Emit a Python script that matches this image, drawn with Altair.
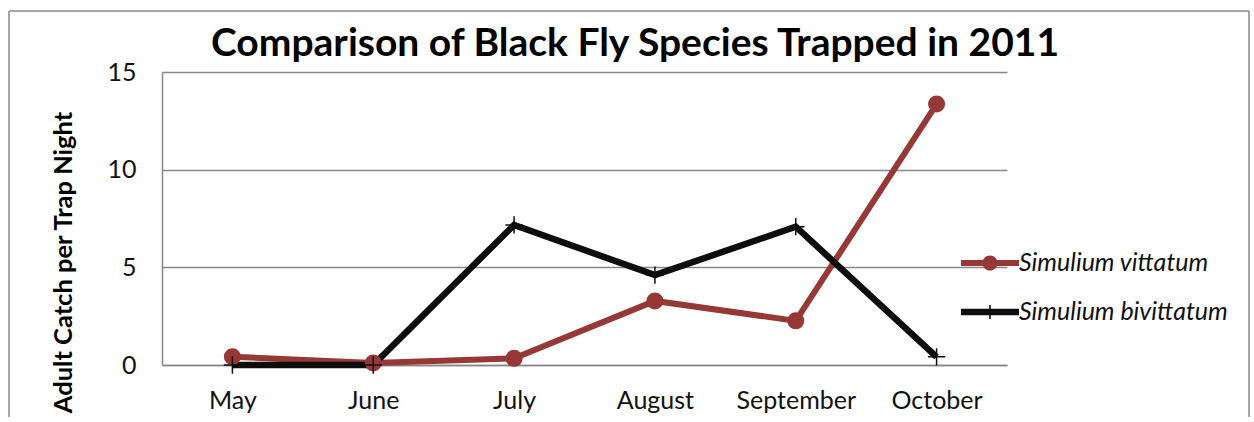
import altair as alt
import pandas as pd

months = ["May", "June", "July", "August", "September", "October"]
series_names = ["Simulium vittatum", "Simulium bivittatum"]
vittatum = [0.42, 0.1, 0.34, 3.28, 2.26, 13.36]
bivittatum = [0.0, 0.0, 7.17, 4.6, 7.08, 0.42]
colors = ["#963836", "#0d0d0d"]
y_ticks = [0, 5, 10, 15]
title_text = "Comparison of Black Fly Species Trapped in 2011"
y_title = "Adult Catch per Trap Night"

rows = []
for m, v in zip(months, vittatum):
    rows.append({"month": m, "value": v, "series": series_names[0]})
for m, v in zip(months, bivittatum):
    rows.append({"month": m, "value": v, "series": series_names[1]})
df = pd.DataFrame(rows)

FONT = "Lato"
x_enc = alt.X("month:N", sort=months, title=None,
              axis=alt.Axis(labelAngle=0, labelFontSize=25, labelPadding=23,
                            ticks=False, domain=True, domainColor="#888888",
                            domainWidth=1.5, grid=False, labelColor="#111111",
                            labelFont=FONT))
y_enc = alt.Y("value:Q", scale=alt.Scale(domain=[0, 15], nice=False),
              axis=alt.Axis(values=y_ticks, title=y_title, titleFontSize=25.5,
                            titleFontWeight="bold", titleFont=FONT,
                            titleX=-99, titleY=190, titleAngle=-90,
                            titleAlign="center", titleBaseline="middle",
                            titleColor="#000000",
                            labelFontSize=25, labelPadding=26, ticks=False,
                            domain=True, domainColor="#888888", domainWidth=1.5,
                            grid=True, gridColor="#888888", gridWidth=1.5,
                            labelColor="#111111", labelFont=FONT))

base = alt.Chart(df)

line_v = base.transform_filter(alt.datum.series == series_names[0]).mark_line(
    color=colors[0], strokeWidth=6).encode(x=x_enc, y=y_enc)
pts_v = base.transform_filter(alt.datum.series == series_names[0]).mark_circle(
    color=colors[0], size=290, opacity=1).encode(x=x_enc, y=y_enc)
line_b = base.transform_filter(alt.datum.series == series_names[1]).mark_line(
    color=colors[1], strokeWidth=6.5).encode(x=x_enc, y=y_enc)
pts_b = base.transform_filter(alt.datum.series == series_names[1]).mark_point(
    shape="M-1,0L1,0M0,-1L0,1", filled=False, color=colors[1], size=300,
    strokeWidth=1.5, opacity=1).encode(x=x_enc, y=y_enc)

legend_paths = [
    "M-1.26,-0.13L1.26,-0.13L1.26,0.13L-1.26,0.13Z"
    "M-0.33,0A0.33,0.33 0 1,1 0.33,0A0.33,0.33 0 1,1 -0.33,0Z",
    "M-1.26,-0.14L1.26,-0.14L1.26,0.14L-1.26,0.14Z"
    "M-0.035,-0.3L0.035,-0.3L0.035,0.3L-0.035,0.3Z",
]
leg = alt.Legend(title=None, orient="none", legendX=805, legendY=168,
                 symbolSize=2116, symbolOpacity=1, symbolStrokeWidth=0,
                 labelFontSize=25, labelFontStyle="italic", labelFont=FONT,
                 labelOffset=6, rowPadding=13, padding=0, labelLimit=0,
                 labelColor="#111111")
legend_layer = base.mark_point(filled=True, opacity=0, strokeWidth=0).encode(
    x=x_enc, y=y_enc,
    color=alt.Color("series:N", scale=alt.Scale(domain=series_names, range=colors),
                    legend=leg),
    shape=alt.Shape("series:N", scale=alt.Scale(domain=series_names, range=legend_paths),
                    legend=leg),
)

one = alt.Data(values=[{"t": title_text}])
title_mark = alt.Chart(one).mark_text(
    fontSize=39, fontWeight="bold", font=FONT, color="#000000",
    align="center", baseline="middle").encode(
    text="t:N", x=alt.value(473), y=alt.value(-28))

border_col = "#888888"
b_top = alt.Chart(alt.Data(values=[{"k": 1}])).mark_rule(
    color=border_col, strokeWidth=1.5).encode(
    x=alt.value(-153), x2=alt.value(1087), y=alt.value(-61))
b_left = alt.Chart(alt.Data(values=[{"k": 1}])).mark_rule(
    color=border_col, strokeWidth=1.5).encode(
    x=alt.value(-153), y=alt.value(-61), y2=alt.value(345))
b_right = alt.Chart(alt.Data(values=[{"k": 1}])).mark_rule(
    color=border_col, strokeWidth=1.5).encode(
    x=alt.value(1087), y=alt.value(-61), y2=alt.value(345))

chart = alt.layer(
    b_top, b_left, b_right, title_mark,
    line_v, line_b, pts_v, pts_b, legend_layer
).properties(
    width=845, height=293,
    padding={"left": 8, "top": 10, "right": 0, "bottom": 0},
    background="white",
).configure_view(strokeWidth=0)

chart.save("out.html", embed_options={"renderer": "svg", "actions": False})
